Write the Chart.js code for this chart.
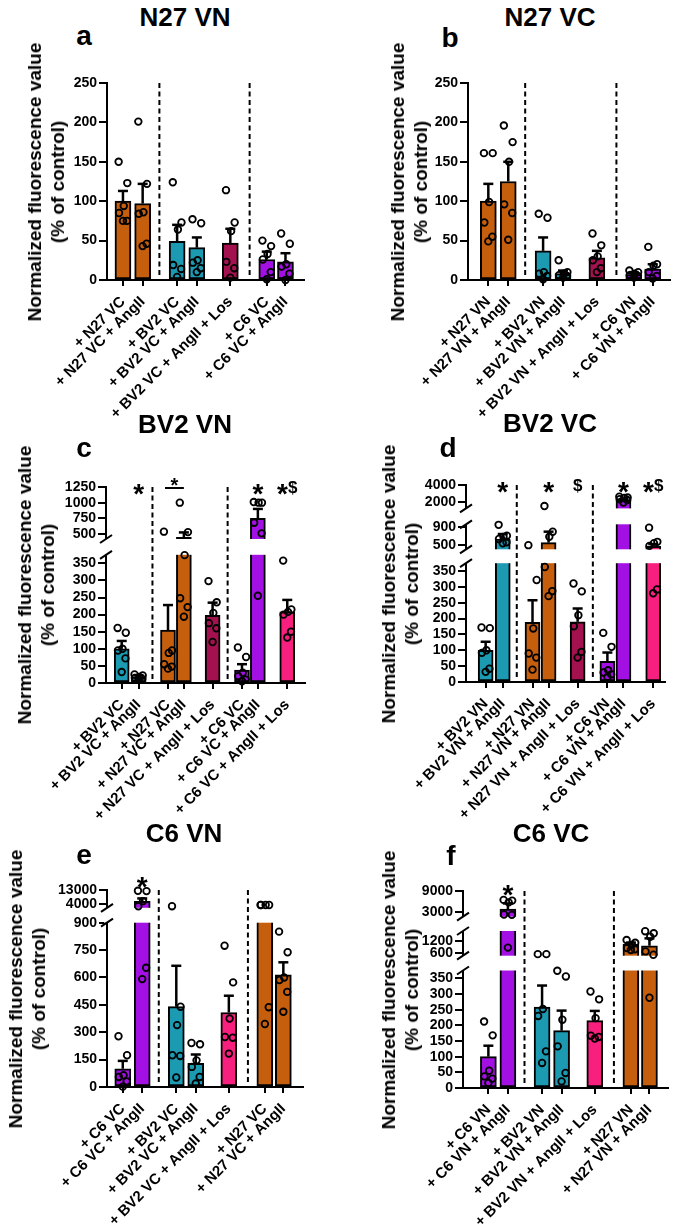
<!DOCTYPE html>
<html>
<head>
<meta charset="utf-8">
<script src="https://cdn.jsdelivr.net/npm/chart.js@4.4.1/dist/chart.umd.min.js"></script>
<style>
html, body { margin: 0; padding: 0; background: #fff; }
#fig { position: relative; width: 675px; height: 1229px; overflow: hidden; font-family: 'Liberation Sans', Arial, sans-serif; font-weight: bold; color: #000; }
#fig canvas { position: absolute; }
.t { position: absolute; white-space: nowrap; line-height: 1; transform: translate(-50%, -50%); }
.ttl { font-size: 26px; }
.let { font-size: 28px; }
.yt { position: absolute; white-space: nowrap; font-size: 19px; line-height: 23px; text-align: center; transform: translate(-50%, -50%) rotate(-90deg); }
</style>
</head>
<body>
<div id="fig"></div>
<script>
// ---------- data ----------
const abTicks = [0, 50, 100, 150, 200, 250];
const cTicks = [0, 50, 100, 150, 200, 250, 300, 350, 500, 750, 1000, 1250];
const dTicks = [0, 50, 100, 150, 200, 250, 300, 350, 500, 900, 2000, 4000];
const eTicks = [0, 150, 300, 450, 600, 750, 900, 4000, 13000];
const fTicks = [0, 50, 100, 150, 200, 250, 300, 350, 600, 1200, 3000, 9000];

// a - N27 VN
const aLabels = ['+ N27 VC', '+ N27 VC + AngII', '+ BV2 VC', '+ BV2 VC + AngII', '+ BV2 VC + AngII + Los', '+ C6 VC', '+ C6 VC + AngII'];
const aMeans = [100, 97, 49, 41, 47, 26, 23];
const aSem = [13, 25, 21, 13, 18, 10, 11];
const aPoints = [
  [150, 123, 94, 85, 75, 75],
  [201, 122, 86, 84, 46, 43],
  [124, 73, 64, 19, 14, 4],
  [77, 72, 25, 22, 15, 10],
  [114, 73, 62, 23, 15, 3],
  [50, 43, 33, 26, 10, 1],
  [59, 46, 20, 17, 8, 0]
];

// b - N27 VC
const bLabels = ['+ N27 VN', '+ N27 VN + AngII', '+ BV2 VN', '+ BV2 VN + AngII', '+ BV2 VN + AngII + Los', '+ C6 VN', '+ C6 VN + AngII'];
const bMeans = [100, 125, 37, 8, 28, 7, 14];
const bSem = [22, 25, 17, 4, 9, 3, 6];
const bPoints = [
  [161, 161, 99, 73, 55, 49],
  [196, 175, 150, 96, 85, 51],
  [84, 79, 10, 8, 5, 1],
  [25, 10, 8, 6, 5, 3],
  [59, 44, 30, 25, 15, 10],
  [12, 10, 8, 6, 5, 3],
  [42, 20, 18, 10, 5, 2]
];

// c - BV2 VN
const cLabels = ['+ BV2 VC', '+ BV2 VC + AngII', '+ N27 VC', '+ N27 VC + AngII', '+ N27 VC + AngII + Los', '+ C6 VC', '+ C6 VC + AngII', '+ C6 VC + AngII + Los'];
const cMeans = [100, 18, 155, 445, 198, 38, 750, 208];
const cSem = [23, 5, 73, 80, 37, 17, 150, 35];
const cPoints = [
  [161, 147, 100, 95, 72, 32],
  [25, 22, 18, 15, 12, 10],
  [537, 95, 88, 55, 48, 42],
  [1000, 530, 374, 248, 222, 194],
  [298, 236, 205, 175, 160, 120],
  [104, 76, 30, 20, 10, 5],
  [1010, 1000, 1000, 680, 510, 255],
  [358, 215, 208, 200, 150, 133]
];
const cMarks = [[1, '*'], [[2, 3], '*'], [6, '*'], [7, '*$']];

// d - BV2 VC
const dLabels = ['+ BV2 VN', '+ BV2 VN + AngII', '+ N27 VN', '+ N27 VN + AngII', '+ N27 VN + AngII + Los', '+ C6 VN', '+ C6 VN + AngII', '+ C6 VN + AngII + Los'];
const dMeans = [100, 633, 188, 551, 190, 65, 2200, 470];
const dSem = [27, 111, 70, 245, 42, 28, 120, 50];
const dPoints = [
  [172, 170, 100, 92, 42, 32],
  [948, 707, 680, 633, 560, 538],
  [496, 322, 169, 90, 77, 39],
  [1480, 795, 684, 363, 287, 271],
  [311, 286, 211, 176, 95, 77],
  [155, 111, 37, 30, 24, 16],
  [2600, 2500, 2450, 2300, 2200, 1900],
  [885, 570, 540, 480, 292, 280]
];
const dMarks = [[1, '*'], [3, '*'], [4, '$'], [6, '*'], [7, '*$']];

// e - C6 VN
const eLabels = ['+ C6 VC', '+ C6 VC + AngII', '+ BV2 VC', '+ BV2 VC + AngII', '+ BV2 VC + AngII + Los', '+ N27 VC', '+ N27 VC + AngII'];
const eMeans = [100, 5900, 440, 130, 408, 1300, 615];
const eSem = [43, 1800, 224, 48, 92, 300, 68];
const ePoints = [
  [278, 174, 64, 55, 31, 2],
  [12500, 12300, 6000, 2800, 653, 591],
  [2800, 440, 339, 174, 170, 52],
  [241, 234, 146, 110, 55, 19],
  [774, 573, 375, 274, 270, 183],
  [3600, 3550, 3550, 3600, 437, 345],
  [851, 738, 600, 586, 521, 412]
];
const eMarks = [[1, '*']];

// f - C6 VC
const fLabels = ['+ C6 VN', '+ C6 VN + AngII', '+ BV2 VN', '+ BV2 VN + AngII', '+ BV2 VN + AngII + Los', '+ N27 VN', '+ N27 VN + AngII'];
const fMeans = [100, 3900, 258, 183, 215, 1040, 960];
const fSem = [35, 1600, 69, 64, 31, 70, 350];
const fPoints = [
  [212, 168, 55, 37, 30, 16],
  [6500, 6300, 5800, 2400, 2300, 870],
  [560, 560, 252, 230, 117, 80],
  [374, 356, 218, 133, 48, 21],
  [308, 283, 223, 167, 163, 158],
  [1230, 1100, 1000, 850, 790, 760],
  [1650, 1550, 1390, 690, 530, 288]
];
const fMarks = [[1, '*']];

// ---------- styles & layout ----------
const OR = '#c55f0e', TE = '#1b9ab2', MA = '#a3124f', PU = '#a310e3', PI = '#f8207f';
const POS7 = [0, 1, 2.75, 3.75, 5.45, 7.3, 8.25];
const DASH7 = [1.85, 6.43];
const POS8 = [0, 1, 2.74, 3.68, 5.38, 7.12, 8.06, 9.8];
const DASH8 = [1.82, 6.27];
const JITTER = [-0.22, 0.22, 0.04, -0.2, 0.2, 0.0];
const FONT = "'Liberation Sans', Arial, sans-serif";
const WY = 80, PT = 22, PR = 14, HX = 148;

// segments: [min, max, page y of min, page y of max]
const panels = [
  { id: 'a', title: 'N27 VN', labels: aLabels, means: aMeans, sem: aSem, points: aPoints, ticks: abTicks, marks: [],
    colors: [OR, OR, TE, TE, MA, PU, PU], pos: POS7, dashes: DASH7, left: 107, right: 304, xr: [-0.81, 9.19],
    segs: [[0, 250, 280, 83]], barW: 16, jit: 1, markDy: 0,
    titleXY: [185, 17], letterXY: [84, 36], ytX: 46 },
  { id: 'b', title: 'N27 VC', labels: bLabels, means: bMeans, sem: bSem, points: bPoints, ticks: abTicks, marks: [],
    colors: [OR, OR, TE, TE, MA, PU, PU], pos: POS7, dashes: DASH7, left: 468, right: 670, xr: [-1.02, 9.12],
    segs: [[0, 250, 280, 83]], barW: 16, jit: 1, markDy: 0,
    titleXY: [550, 17], letterXY: [450, 38], ytX: 409 },
  { id: 'c', title: 'BV2 VN', labels: cLabels, means: cMeans, sem: cSem, points: cPoints, ticks: cTicks, marks: cMarks,
    colors: [TE, TE, OR, OR, MA, PU, PU, PI], pos: POS8, dashes: DASH8, left: 106, right: 305, xr: [-0.93, 10.85],
    segs: [[0, 375, 683, 554.8], [420, 1250, 539, 487]], barW: 15, jit: 1.1, markDy: 0,
    titleXY: [185, 424], letterXY: [84, 448], ytX: 36 },
  { id: 'd', title: 'BV2 VC', labels: dLabels, means: dMeans, sem: dSem, points: dPoints, ticks: dTicks, marks: dMarks,
    colors: [TE, TE, OR, OR, MA, PU, PU, PI], pos: POS8, dashes: DASH8, left: 466, right: 665, xr: [-1.15, 10.49],
    segs: [[0, 375, 682, 563.2], [404, 960, 549.3, 524.3], [1200, 4000, 508.4, 485]], barW: 15, jit: 1.1, markDy: 0,
    titleXY: [550, 423], letterXY: [448, 448], ytX: 400 },
  { id: 'e', title: 'C6 VN', labels: eLabels, means: eMeans, sem: eSem, points: ePoints, ticks: eTicks, marks: eMarks,
    colors: [PU, PU, TE, TE, PI, OR, OR], pos: POS7, dashes: DASH7, left: 107, right: 303, xr: [-0.81, 9.26],
    segs: [[0, 900, 1087, 922.7], [1800, 13000, 907.8, 890]], barW: 16, jit: 1, markDy: -10,
    titleXY: [184, 833], letterXY: [84, 855], ytX: 27 },
  { id: 'f', title: 'C6 VC', labels: fLabels, means: fMeans, sem: fSem, points: fPoints, ticks: fTicks, marks: fMarks,
    colors: [PU, PU, TE, TE, PI, OR, OR], pos: POS7, dashes: DASH7, left: 463, right: 668, xr: [-1.3, 9.2],
    segs: [[0, 375, 1088, 970.5], [486, 1660, 955.7, 931], [1780, 9000, 916.7, 891]], barW: 16, jit: 1, markDy: -3,
    titleXY: [551, 833], letterXY: [451, 856], ytX: 400 }
];

const PANEL = {};
const SEGS = {};

Chart.defaults.font.family = FONT;
Chart.defaults.font.weight = 'bold';
Chart.defaults.color = '#000';

// linear scale cut into pieces (broken y axis)
class BrokenScale extends Chart.LinearScale {
  getPixelForValue(value) {
    if (value === null || value === undefined || isNaN(value)) return NaN;
    const { segs, H } = SEGS[this.chart.canvas.id];
    let px = 0;
    for (let i = 0; i < segs.length; i++) {
      const s = segs[i];
      if (value <= s.max || i === segs.length - 1) {
        if (value >= s.min || i === 0) {
          px = s.lo + (value - s.min) / (s.max - s.min) * (s.hi - s.lo);
        } else {
          const q = segs[i - 1];
          px = q.hi + (value - q.max) / (s.min - q.max) * (s.lo - q.hi);
        }
        break;
      }
    }
    return this.getPixelForDecimal(px / H);
  }
  getValueForPixel(pixel) {
    const { segs, H } = SEGS[this.chart.canvas.id];
    const px = this.getDecimalForPixel(pixel) * H;
    let s = segs[segs.length - 1];
    for (const g of segs) { if (px <= g.hi) { s = g; break; } }
    return s.min + (px - s.lo) / (s.hi - s.lo) * (s.max - s.min);
  }
}
BrokenScale.id = 'broken';
BrokenScale.defaults = {};
Chart.register(BrokenScale);

function drawMark(ctx, text, x, cy) {
  const parts = text.split('').map(ch => {
    const size = ch === '*' ? 28 : 17;
    ctx.font = 'bold ' + size + 'px ' + FONT;
    return { ch, size, w: ctx.measureText(ch).width };
  });
  const total = parts.reduce((s, p) => s + p.w, 0);
  let x0 = x - total / 2;
  ctx.textAlign = 'left';
  ctx.textBaseline = 'alphabetic';
  parts.forEach(p => {
    ctx.font = 'bold ' + p.size + 'px ' + FONT;
    const base = p.ch === '*' ? cy + 0.58 * p.size : cy + 0.36 * p.size;
    ctx.fillText(p.ch, x0, base);
    x0 += p.w;
  });
}

const deco = {
  id: 'deco',
  afterDatasetDraw(chart, args) {
    if (args.meta.type !== 'bar') return;
    const p = PANEL[chart.canvas.id];
    const ctx = chart.ctx, xs = chart.scales.x, ys = chart.scales.y, a = chart.chartArea;
    ctx.save();
    ctx.strokeStyle = '#000';
    // SEM whiskers
    ctx.lineWidth = 2.5;
    p.means.forEach((m, i) => {
      const x = xs.getPixelForValue(p.pos[i]);
      const y0 = ys.getPixelForValue(m), y1 = ys.getPixelForValue(m + p.sem[i]);
      ctx.beginPath(); ctx.moveTo(x, y0); ctx.lineTo(x, y1); ctx.stroke();
      ctx.beginPath(); ctx.moveTo(x - 5, y1); ctx.lineTo(x + 5, y1); ctx.stroke();
    });
    // axis breaks
    ctx.lineWidth = 2;
    for (let k = 1; k < p.segs.length; k++) {
      const yLo = ys.getPixelForValue(p.segs[k - 1][1]);
      const yHi = ys.getPixelForValue(p.segs[k][0]);
      ctx.fillStyle = '#fff';
      ctx.fillRect(a.left - 3, yHi, a.right - a.left + 6, yLo - yHi);
      [yLo, yHi].forEach(y => {
        ctx.beginPath(); ctx.moveTo(a.left - 6, y + 4); ctx.lineTo(a.left + 6, y - 4); ctx.stroke();
      });
    }
    // dashed separators
    ctx.setLineDash([5, 3.5]);
    p.dashes.forEach(d => {
      const x = xs.getPixelForValue(d);
      ctx.beginPath(); ctx.moveTo(x, a.top); ctx.lineTo(x, a.bottom - 4); ctx.stroke();
    });
    ctx.restore();
  },
  afterDraw(chart) {
    const p = PANEL[chart.canvas.id];
    if (!p.marks.length) return;
    const ctx = chart.ctx, xs = chart.scales.x, a = chart.chartArea;
    const cy = a.top + p.markDy;
    ctx.save();
    ctx.fillStyle = '#000';
    ctx.strokeStyle = '#000';
    p.marks.forEach(([bar, text]) => {
      if (Array.isArray(bar)) {
        const x1 = xs.getPixelForValue(p.pos[bar[0]]) - 3, x2 = xs.getPixelForValue(p.pos[bar[1]]);
        ctx.lineWidth = 2;
        ctx.beginPath(); ctx.moveTo(x1, cy + 1); ctx.lineTo(x2, cy + 1); ctx.stroke();
        ctx.font = 'bold 20px ' + FONT;
        ctx.textAlign = 'center';
        ctx.textBaseline = 'alphabetic';
        ctx.fillText(text, (x1 + x2) / 2, cy - 7 + 0.58 * 20);
      } else {
        drawMark(ctx, text, xs.getPixelForValue(p.pos[bar]), cy);
      }
    });
    ctx.restore();
  }
};

const fig = document.getElementById('fig');

function addText(cls, html, x, y) {
  const d = document.createElement('div');
  d.className = cls;
  d.innerHTML = html;
  d.style.left = x + 'px';
  d.style.top = y + 'px';
  fig.appendChild(d);
}

panels.forEach(p => {
  const cid = 'cv_' + p.id;
  PANEL[cid] = p;
  const bottom = p.segs[0][2], top = p.segs[p.segs.length - 1][3];
  SEGS[cid] = {
    segs: p.segs.map(([min, max, yb, yt]) => ({ min, max, lo: bottom - yb, hi: bottom - yt })),
    H: bottom - top
  };
  const L = Math.round(p.left), R = Math.round(p.right), T = Math.round(top), B = Math.round(bottom);
  const cv = document.createElement('canvas');
  cv.id = cid;
  cv.width = WY + (R - L) + PR;
  cv.height = PT + (B - T) + HX;
  cv.style.left = (L - WY) + 'px';
  cv.style.top = (T - PT) + 'px';
  cv.style.width = cv.width + 'px';
  cv.style.height = cv.height + 'px';
  fig.appendChild(cv);

  const scatterData = [];
  p.points.forEach((vals, i) => {
    vals.forEach((v, j) => scatterData.push({ x: p.pos[i] + JITTER[j] * p.jit, y: v }));
  });

  new Chart(cv, {
    type: 'bar',
    data: {
      datasets: [
        {
          type: 'bar',
          data: p.means.map((m, i) => ({ x: p.pos[i], y: m })),
          backgroundColor: p.colors,
          borderColor: '#000',
          borderWidth: 2,
          borderSkipped: false,
          barThickness: p.barW,
          order: 2
        },
        {
          type: 'scatter',
          data: scatterData,
          pointRadius: 3.3,
          pointBorderWidth: 1.8,
          pointBorderColor: '#000',
          pointBackgroundColor: 'rgba(0,0,0,0)',
          clip: false,
          order: 1
        }
      ]
    },
    options: {
      responsive: false,
      maintainAspectRatio: false,
      animation: false,
      events: [],
      layout: { padding: { top: PT, right: PR, bottom: 0, left: 0 } },
      plugins: { legend: { display: false }, tooltip: { enabled: false } },
      scales: {
        x: {
          type: 'linear',
          min: p.xr[0],
          max: p.xr[1],
          bounds: 'data',
          offset: false,
          afterBuildTicks: s => { s.ticks = p.pos.map(v => ({ value: v })); },
          afterFit: s => { s.height = HX; },
          grid: { drawOnChartArea: false, offset: false, color: '#000', lineWidth: 2, tickLength: 6 },
          border: { display: true, color: '#000', width: 2 },
          ticks: {
            autoSkip: false, minRotation: 45, maxRotation: 45, padding: 7,
            font: { size: 15, weight: 'bold' }, color: '#000',
            callback: (v, i) => p.labels[i]
          }
        },
        y: {
          type: 'broken',
          min: 0,
          max: p.ticks[p.ticks.length - 1],
          bounds: 'data',
          afterBuildTicks: s => { s.ticks = p.ticks.map(v => ({ value: v })); },
          afterFit: s => { s.width = WY; },
          grid: { drawOnChartArea: false, color: '#000', lineWidth: 2, tickLength: 8 },
          border: { display: true, color: '#000', width: 2 },
          ticks: {
            autoSkip: false, padding: 2,
            font: { size: 14, weight: 'bold' }, color: '#000',
            callback: v => String(v)
          }
        }
      }
    },
    plugins: [deco]
  });

  addText('t ttl', p.title, p.titleXY[0], p.titleXY[1]);
  addText('t let', p.id, p.letterXY[0], p.letterXY[1]);
  addText('yt', 'Normalized fluorescence value<br>(% of control)', p.ytX, (top + bottom) / 2);
});
</script>
</body>
</html>
